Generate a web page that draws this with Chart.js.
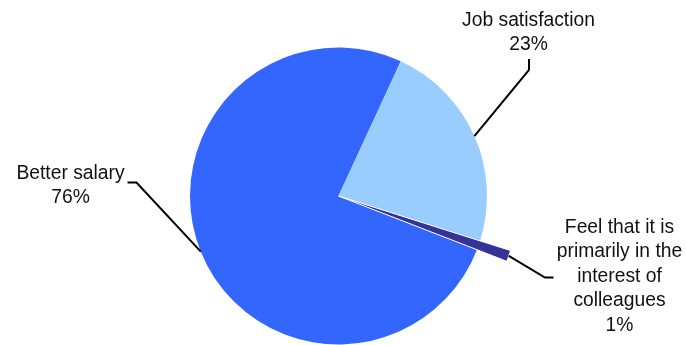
<!DOCTYPE html>
<html>
<head>
<meta charset="utf-8">
<script src="https://cdn.jsdelivr.net/npm/chart.js@4/dist/chart.umd.min.js"></script>
<style>
  html, body { margin: 0; padding: 0; background: #fff; }
  #wrap { width: 686px; height: 345px; position: relative; }
</style>
</head>
<body>
<div id="wrap"><canvas id="myChart"></canvas></div>
<script>
const categories = ["Better salary", "Job satisfaction", "Feel that it is primarily in the interest of colleagues"];
const values = [76, 23, 1];
// how each category name is wrapped when written next to the pie
const labelLines = [
  ["Better salary"],
  ["Job satisfaction"],
  ["Feel that it is", "primarily in the", "interest of", "colleagues"]
];
const colors = ["#3366FF", "#99CCFF", "#333399"];

// text anchor (centre x, first baseline) and leader elbow for each label
const labelLayout = [
  { x: 70.5, y: 178.5, elbow: [136.5, 182.5], end: [127.5, 182.5] },
  { x: 528.5, y: 25.5, elbow: [529, 70], end: [529, 59] },
  { x: 619.5, y: 233, elbow: [545, 277.5], end: [553.5, 277.5] }
];
const lineGap = 24.4;

const sliceLabels = {
  id: "sliceLabels",
  afterDatasetsUpdate(chart) {
    // the small slice sticks out past the rim of the pie
    const arc = chart.getDatasetMeta(0).data[2];
    arc.outerRadius += 32;
  },
  afterDatasetsDraw(chart) {
    const ctx = chart.ctx;
    const meta = chart.getDatasetMeta(0);
    ctx.save();
    ctx.strokeStyle = "#000";
    ctx.lineWidth = 2;
    ctx.lineJoin = "miter";
    meta.data.forEach((arc, i) => {
      const mid = (arc.startAngle + arc.endAngle) / 2;
      const sx = arc.x + Math.cos(mid) * arc.outerRadius;
      const sy = arc.y + Math.sin(mid) * arc.outerRadius;
      const lay = labelLayout[i];
      ctx.beginPath();
      ctx.moveTo(sx, sy);
      ctx.lineTo(lay.elbow[0], lay.elbow[1]);
      ctx.lineTo(lay.end[0], lay.end[1]);
      ctx.stroke();

      ctx.fillStyle = "#111";
      ctx.font = "19.3px 'Liberation Sans', Arial, sans-serif";
      ctx.textAlign = "center";
      ctx.textBaseline = "alphabetic";
      const lines = labelLines[i].concat([values[i] + "%"]);
      lines.forEach((t, k) => {
        ctx.fillText(t, lay.x, lay.y + k * lineGap);
      });
    });
    ctx.restore();
  }
};

new Chart(document.getElementById("myChart"), {
  type: "pie",
  data: {
    labels: categories,
    datasets: [{
      data: values,
      backgroundColor: colors,
      borderColor: "#fff",
      borderWidth: [0, 0, 1]
    }]
  },
  options: {
    responsive: true,
    maintainAspectRatio: false,
    animation: false,
    events: [],
    rotation: 111.2,
    layout: { padding: { top: 47, bottom: 0, left: 0, right: 9 } },
    plugins: {
      legend: { display: false },
      tooltip: { enabled: false }
    }
  },
  plugins: [sliceLabels]
});
</script>
</body>
</html>
